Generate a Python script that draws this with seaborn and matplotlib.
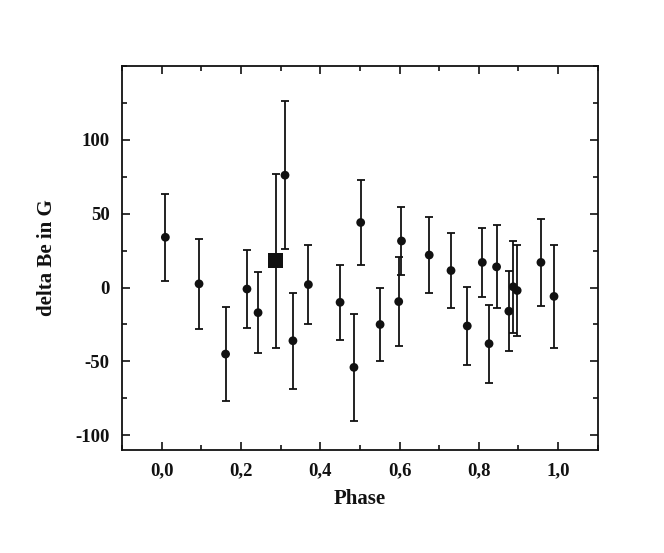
import numpy as np
import pandas as pd
import matplotlib
matplotlib.use("Agg")
import matplotlib.pyplot as plt
import seaborn as sns

# phase, delta Be (G) and 1-sigma errors
phase = [0.009, 0.094, 0.161, 0.215, 0.243, 0.311, 0.331, 0.370, 0.450,
         0.485, 0.502, 0.551, 0.598, 0.605, 0.675, 0.730, 0.771, 0.809,
         0.826, 0.845, 0.876, 0.887, 0.897, 0.957, 0.990]
delta_be = [34, 2.5, -45, -1, -17, 76, -36, 2, -10,
            -54, 44, -25, -9.5, 31.5, 22, 11.5, -26, 17,
            -38, 14, -16, 0.5, -2, 17, -6]
err = [29.5, 30.5, 32, 26.5, 27.5, 50, 32.5, 26.5, 25.5,
       36, 28.5, 25, 30, 23, 26, 25.5, 26.5, 23.5,
       26.5, 28, 27, 31, 31, 29.5, 35]

# the single square point
sq_phase = [0.288]
sq_be = [18]
sq_err = [59]

xticks = [0.0, 0.2, 0.4, 0.6, 0.8, 1.0]
xlabels = ["0,0", "0,2", "0,4", "0,6", "0,8", "1,0"]
yticks = [-100, -50, 0, 50, 100]
ylabels = ["-100", "-50", "0", "50", "100"]

df = pd.DataFrame({"Phase": phase, "dBe": delta_be, "err": err})
sq = pd.DataFrame({"Phase": sq_phase, "dBe": sq_be, "err": sq_err})

sns.set_theme(style="ticks")
plt.rcParams['font.family'] = ['Liberation Serif', 'DejaVu Serif']
plt.rcParams['font.weight'] = 'bold'
plt.rcParams['axes.unicode_minus'] = False

ink = "#111111"
fig = plt.figure(figsize=(6.64, 5.53), dpi=100)
ax = fig.add_axes([0.184, 0.186, 0.716, 0.695])

ax.errorbar(df["Phase"], df["dBe"], yerr=df["err"], fmt="none",
            ecolor=ink, elinewidth=1.3, capsize=3.2, capthick=1.3, zorder=2)
ax.errorbar(sq["Phase"], sq["dBe"], yerr=sq["err"], fmt="none",
            ecolor=ink, elinewidth=1.3, capsize=3.2, capthick=1.3, zorder=2)
sns.scatterplot(data=df, x="Phase", y="dBe", ax=ax, color=ink,
                s=40, marker="o", edgecolor="none", zorder=3)
sns.scatterplot(data=sq, x="Phase", y="dBe", ax=ax, color=ink,
                s=115, marker="s", edgecolor="none", zorder=3)

ax.set_xlim(-0.1, 1.1)
ax.set_ylim(-110, 150)
ax.set_xticks(xticks)
ax.set_xticklabels(xlabels)
ax.set_yticks(yticks)
ax.set_yticklabels(ylabels)
ax.set_xticks(np.arange(-0.1, 1.11, 0.1), minor=True)
ax.set_yticks(np.arange(-100, 151, 25), minor=True)
ax.tick_params(which="both", direction="in", top=True, right=True,
               width=1.2, color=ink, labelcolor=ink)
ax.tick_params(which="major", length=6, labelsize=13.5, pad=9)
ax.tick_params(which="minor", length=3.5)
for lab in ax.get_xticklabels() + ax.get_yticklabels():
    lab.set_fontweight("bold")
for s in ax.spines.values():
    s.set_linewidth(1.3)
    s.set_color(ink)

ax.set_xlabel("Phase", fontsize=15, fontweight="bold", labelpad=7, color=ink)
ax.set_ylabel("delta Be in G", fontsize=15, fontweight="bold", labelpad=13, color=ink)

fig.savefig("out.png", dpi=100)
